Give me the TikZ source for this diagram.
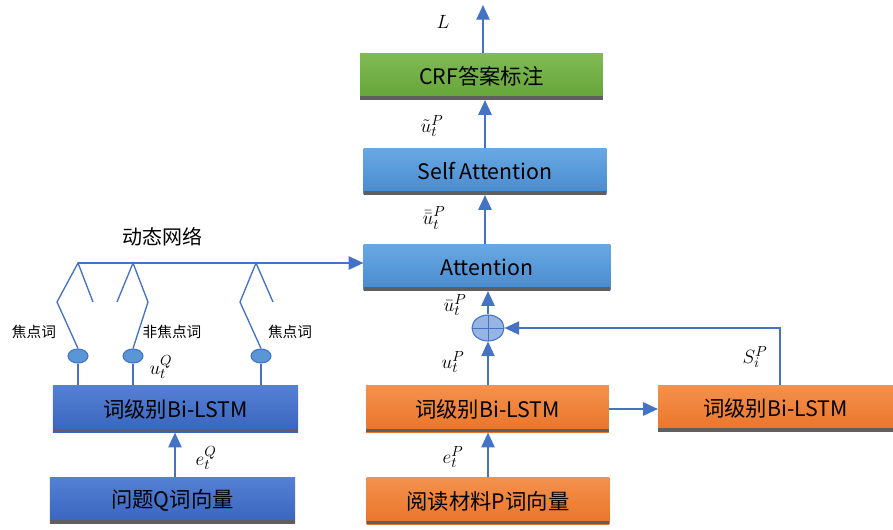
\documentclass[tikz,border=0pt]{standalone}
\usepackage{fontspec}
\setmainfont{Noto Sans CJK SC}
\usetikzlibrary{arrows.meta,shapes.geometric}

\definecolor{linkblue}{RGB}{68,114,196}
\definecolor{shadowgray}{RGB}{95,95,95}
\definecolor{skytop}{RGB}{104,168,226}
\definecolor{skybot}{RGB}{72,138,208}
\definecolor{navytop}{RGB}{84,128,212}
\definecolor{navybot}{RGB}{56,100,190}
\definecolor{oranget}{RGB}{243,145,78}
\definecolor{orangeb}{RGB}{234,116,40}
\definecolor{greent}{RGB}{128,186,84}
\definecolor{greenb}{RGB}{100,164,56}
\definecolor{knobfill}{RGB}{91,150,212}
\definecolor{plusfill}{RGB}{150,180,228}

\begin{document}
\begin{tikzpicture}[x = 0.75pt, y = -0.75pt,
    > = {Triangle[width=10pt, length=11pt]},
    box/.style = {minimum width=182pt, minimum height=35pt, inner sep=0pt,
        font=\fontsize{16}{19}\selectfont,
        path picture={\fill[shadowgray]
            ([yshift=2.6pt]path picture bounding box.south west)
            rectangle (path picture bounding box.south east);}},
    skybox/.style = {box, top color=skytop, bottom color=skybot},
    navybox/.style = {box, top color=navytop, bottom color=navybot},
    orangebox/.style = {box, top color=oranget, bottom color=orangeb},
    greenbox/.style = {box, top color=greent, bottom color=greenb},
    link/.style = {linkblue, line width=1pt},
    knob/.style = {ellipse, draw=linkblue, line width=0.8pt, fill=knobfill,
        minimum width=15pt, minimum height=10.5pt, inner sep=0pt},
    sym/.style = {font=\fontsize{15}{18}\selectfont, inner sep=1pt},
    tag/.style = {font=\fontsize{11}{13}\selectfont}]

        % Frame of the whole figure.
        \useasboundingbox (0,0) rectangle (893,529);

        % Boxes of the central column.
        \node[greenbox] (crf) at (481.5,76.5) {CRF答案标注};
        \node[skybox] (self) at (485,171.5) {Self Attention};
        \node[skybox, minimum width=185pt] (att) at (487,267.5) {Attention};
        \node[orangebox] (lstmp) at (487.5,409) {词级别Bi-LSTM};
        \node[orangebox] (embp) at (488,501) {阅读材料P词向量};

        % Box on the right, and the two boxes of the question.
        \node[orangebox, minimum width=176pt] (lstms) at (775.5,408.5) {词级别Bi-LSTM};
        \node[navybox, minimum width=184pt] (lstmq) at (175.5,409) {词级别Bi-LSTM};
        \node[navybox, minimum width=184pt] (embq) at (172.5,500.5) {问题Q词向量};

        % The sum node.
        \node[ellipse, draw=linkblue, line width=0.8pt, fill=plusfill,
            minimum width=24pt, minimum height=19.5pt, inner sep=0pt,
            path picture={\draw[linkblue, line width=0.6pt]
                (path picture bounding box.north) -- (path picture bounding box.south)
                (path picture bounding box.west) -- (path picture bounding box.east);}]
            (plus) at (488,328) {};

        % Arrows going up the central column.
        \coordinate (top) at (483,5);
        \draw[link, ->] (top |- crf.north) to (top);
        \draw[link, ->] (self.north) to (self.north |- crf.south);
        \draw[link, ->] (att.north -| self.north) to (self.south);
        \draw[link, ->] (plus.north) to (plus.north |- att.south);
        \draw[link, ->] (plus.north |- lstmp.north) to (plus.south);
        \draw[link, ->] (embp.north) to (embp.north |- lstmp.south);

        % Side branch through the right box.
        \coordinate (turn) at (780,328);
        \draw[link, ->] (lstmp.east) to (lstmp.east -| lstms.west);
        \draw[link, ->] (turn |- lstms.north) to (turn) to (plus.east);

        % Question side.
        \draw[link, ->] (embq.north -| 175,0) to (lstmq.south -| 175,0);

        % Hubs of the dynamic network and the ends of their legs.
        \coordinate (h1) at (78,263);
        \coordinate (h2) at (133,263);
        \coordinate (h3) at (256,263);
        \coordinate (h1l) at (57,302);
        \coordinate (h1r) at (93,302);
        \coordinate (h2l) at (117,302);
        \coordinate (h2r) at (148,302);
        \coordinate (h3l) at (240,302);
        \coordinate (h3r) at (273,302);

        % Knobs on top of the question encoder.
        \node[knob] (k1) at (78,356) {};
        \node[knob] (k2) at (133,356) {};
        \node[knob] (k3) at (261,356) {};

        % Bus of the dynamic network into the attention box.
        \draw[link, ->] (h1) to (h1 -| att.west);

        % Switch legs, one of each pair reaching the knob.
        \draw[link] (h1r) to (h1) to (h1l) to (k1.north);
        \draw[link] (h2l) to (h2) to (h2r) to (k2.north);
        \draw[link] (h3r) to (h3) to (h3l) to (k3.north);
        \foreach \k in {k1, k2, k3}{
            \draw[link] (\k.south) to (\k |- lstmq.north);
        }

        % Labels.
        \node[sym] (lL) at (443,22) {$L$};
        \node[sym] (ltilde) at (432,126) {$\tilde{u}_t^P$};
        \node[sym] (ldbar) at (434,218) {$\bar{\bar{u}}_t^P$};
        \node[sym] (lbar) at (455,305) {$\bar{u}_t^P$};
        \node[sym] (lup) at (453,362) {$u_t^P$};
        \node[sym] (lsp) at (755,357) {$S_i^P$};
        \node[sym] (lep) at (453,457) {$e_t^P$};
        \node[sym] (leq) at (206,458) {$e_t^Q$};
        \node[sym] (luq) at (161,367) {$u_t^Q$};
        \node[font=\fontsize{15}{18}\selectfont] (ldyn) at (162,237) {动态网络};
        \node[tag] (lf1) at (34,332) {焦点词};
        \node[tag] (lnf) at (172,332) {非焦点词};
        \node[tag] (lf3) at (290,332) {焦点词};
    \end{tikzpicture}
\end{document}
